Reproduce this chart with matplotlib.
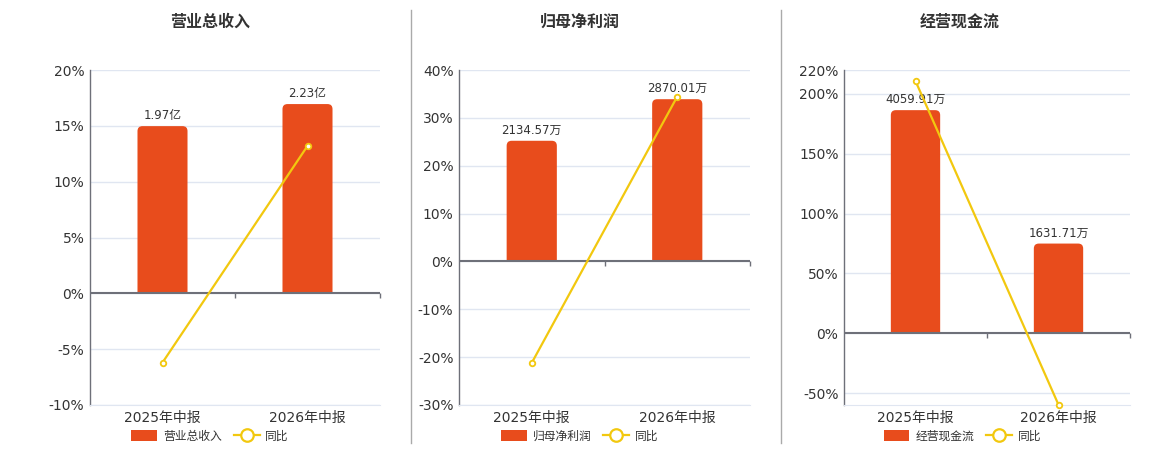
import matplotlib
matplotlib.use("Agg")
import matplotlib.pyplot as plt
from matplotlib.lines import Line2D
from matplotlib.patches import Patch, FancyBboxPatch, Rectangle

plt.rcParams['font.family'] = ['DejaVu Sans', 'Noto Sans CJK SC']

# Datos
periodos = ['2025年中报', '2026年中报']
titulos = ['营业总收入', '归母净利润', '经营现金流']
valores = [[1.97, 2.23], [2134.57, 2870.01], [4059.91, 1631.71]]
etiquetas = [['1.97亿', '2.23亿'], ['2134.57万', '2870.01万'], ['4059.91万', '1631.71万']]
yoy = [[-6.2, 13.2], [-21.2, 34.45], [210.8, -59.8]]
yticks = [[-10, -5, 0, 5, 10, 15, 20],
          [-30, -20, -10, 0, 10, 20, 30, 40],
          [-50, 0, 50, 100, 150, 200, 220]]
ylims = [(-10, 20), (-30, 40), (-60, 220)]

color_barra = '#e84c1c'
color_linea = '#f2c80f'
color_grid = '#e0e6f1'
color_eje = '#6e7079'
color_texto = '#333333'

fig = plt.figure(figsize=(11.6, 4.5), dpi=100)

# posiciones en pixeles (izq, ancho) y centro de titulo
paneles = [(90, 290, 210), (459, 291, 580), (844, 286, 960)]
alto = 335

for i in range(3):
    izq, ancho, centro = paneles[i]
    ax = fig.add_axes([izq / 1160, 45 / 450, ancho / 1160, alto / 450])
    ymin, ymax = ylims[i]
    ax.set_xlim(-0.5, 1.5)
    ax.set_ylim(ymin, ymax)
    ax.set_yticks(yticks[i])
    ax.set_yticklabels([f'{t}%' for t in yticks[i]])
    ax.yaxis.grid(True, color=color_grid, lw=1)
    ax.set_axisbelow(True)
    ax.tick_params(axis='y', length=0, labelsize=10, labelcolor=color_texto, pad=4)
    ax.set_xticks(range(len(periodos)))
    ax.set_xticklabels(periodos)
    ax.tick_params(axis='x', length=0, labelsize=10, labelcolor=color_texto, pad=4)
    for s in ['top', 'right']:
        ax.spines[s].set_visible(False)
    ax.spines['bottom'].set_color(color_grid)
    ax.spines['left'].set_color(color_eje)
    ax.spines['left'].set_linewidth(1)

    # barras en eje secundario
    ax2 = ax.twinx()
    tope = max(valores[i]) * 1.18
    y0 = tope * ymin / ymax
    ax2.set_ylim(y0, tope)
    barras = ax2.bar(range(len(periodos)), valores[i], width=0.345, color=color_barra, zorder=2)
    # esquinas redondeadas
    px_x = 2.0 / ancho
    px_y = (tope - y0) / alto
    r = 5 * px_x
    for b in barras:
        b.set_visible(False)
        x, w, h = b.get_x(), b.get_width(), b.get_height()
        caja = FancyBboxPatch((x, -h * 0.1), w, h * 1.1,
                              boxstyle=f'round,pad=0,rounding_size={r}',
                              mutation_aspect=px_y / px_x,
                              facecolor=color_barra, edgecolor='none', zorder=2)
        ax2.add_patch(caja)
        clip = Rectangle((x - w, 0), w * 3, h * 2, transform=ax2.transData)
        caja.set_clip_path(clip)
    for b, et in zip(barras, etiquetas[i]):
        ax2.annotate(et, (b.get_x() + b.get_width() / 2, b.get_height()),
                     xytext=(0, 3), textcoords='offset points', ha='center', va='bottom',
                     fontsize=8.5, color=color_texto)
    ax2.axis('off')

    # linea de crecimiento
    ax3 = ax.twinx()
    ax3.set_ylim(ymin, ymax)
    ax3.set_xlim(-0.5, 1.5)
    ax3.axhline(0, color=color_eje, lw=1.5, zorder=1)
    d = (ymax - ymin) * 5 / alto
    ax3.vlines([0.5, 1.5], -d, 0, color=color_eje, lw=1, clip_on=False)
    ax3.plot(range(len(periodos)), yoy[i], color=color_linea, lw=1.6, marker='o',
             markersize=4, mfc='white', mec=color_linea, mew=1.3, zorder=3, clip_on=False)
    ax3.axis('off')

    handles = [Patch(facecolor=color_barra, edgecolor='none'),
               Line2D([], [], color=color_linea, lw=1.6, marker='o', markersize=9,
                      mfc='white', mec=color_linea, mew=1.6)]
    ax3.legend(handles, [titulos[i], '同比'], loc='center', bbox_to_anchor=(0.414, -0.093),
               ncol=2, frameon=False, fontsize=8.5, handlelength=2.2, handleheight=1.1,
               columnspacing=1.0, handletextpad=0.5, labelcolor=color_texto)

    fig.text(centro / 1160, 1 - 22 / 450, titulos[i], ha='center', va='center',
             fontsize=11.5, fontweight='bold', color=color_texto)

# divisores
for xd in [411, 781]:
    fig.add_artist(Line2D([xd / 1160, xd / 1160], [1 - 10 / 450, 1 - 443 / 450],
                          color='#aaaaaa', lw=1))

fig.savefig('out.png', dpi=100)
